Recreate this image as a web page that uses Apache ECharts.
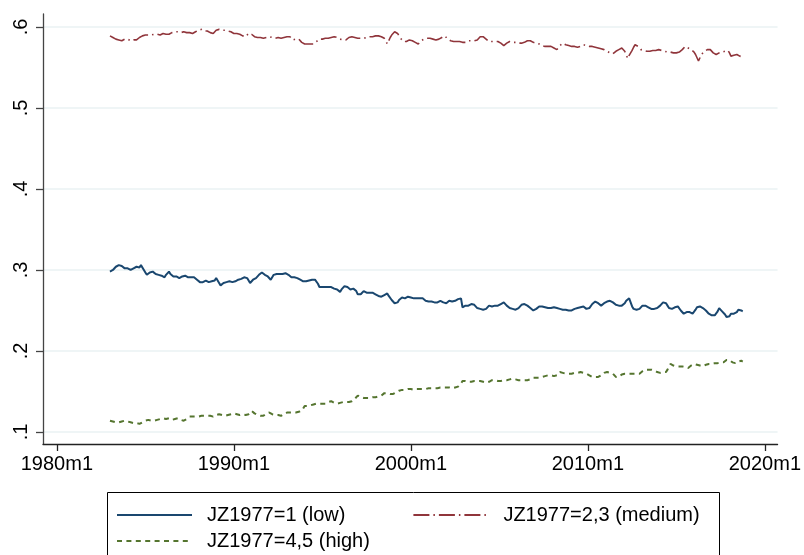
<!DOCTYPE html>
<html>
<head>
<meta charset="utf-8">
<script src="https://cdn.jsdelivr.net/npm/echarts@6/dist/echarts.min.js"></script>
<style>
  html, body { margin: 0; padding: 0; background: #fff; }
  #chart { width: 804px; height: 555px; }
</style>
</head>
<body>
<div id="chart"></div>
<script>
// Monthly shares by JZ1977 group, 1983m1 onwards (one row per year)
const startMonth = '1983m1';

const lowShare = [
  .298, .299, .300, .302, .304, .305, .306, .304, .305, .304, .302, .303,
  .302, .301, .300, .301, .302, .301, .304, .305, .303, .306, .305, .300,
  .297, .294, .295, .297, .299, .298, .296, .295, .296, .294, .295, .293,
  .292, .291, .294, .296, .298, .295, .293, .292, .291, .292, .291, .290,
  .291, .292, .291, .293, .292, .291, .292, .291, .290, .291, .290, .288,
  .286, .285, .284, .285, .286, .287, .286, .285, .287, .286, .288, .287,
  .290, .287, .284, .281, .283, .284, .283, .285, .284, .286, .286, .285,
  .284, .286, .285, .288, .287, .289, .290, .291, .293, .290, .287, .284,
  .286, .288, .287, .290, .292, .294, .295, .297, .295, .294, .293, .292,
  .290, .288, .291, .294, .296, .295, .293, .295, .294, .295, .294, .296,
  .295, .294, .292, .291, .292, .291, .290, .290, .289, .288, .287, .286,
  .287, .286, .288, .287, .286, .288, .287, .288, .286, .283, .279, .280,
  .279, .280, .279, .278, .279, .278, .279, .278, .277, .277, .276, .274,
  .273, .276, .278, .280, .281, .279, .277, .276, .275, .277, .279, .274,
  .270, .268, .270, .272, .274, .273, .272, .272, .272, .273, .272, .271,
  .270, .269, .268, .267, .267, .268, .269, .270, .271, .268, .266, .263,
  .261, .259, .258, .260, .263, .265, .266, .266, .265, .266, .267, .266,
  .266, .265, .265, .266, .265, .266, .265, .264, .265, .264, .262, .260,
  .261, .260, .261, .260, .260, .261, .260, .261, .262, .261, .260, .258,
  .259, .261, .262, .262, .261, .261, .262, .263, .264, .263, .265, .254,
  .255, .256, .256, .256, .257, .258, .258, .257, .256, .253, .253, .252,
  .252, .251, .251, .252, .254, .256, .256, .255, .255, .256, .255, .256,
  .257, .258, .259, .260, .258, .256, .254, .253, .252, .252, .251, .251,
  .251, .253, .255, .257, .259, .258, .257, .256, .255, .253, .251, .250,
  .251, .252, .254, .255, .256, .255, .255, .254, .254, .253, .253, .253,
  .253, .254, .253, .253, .252, .252, .252, .251, .251, .251, .250, .250,
  .250, .250, .251, .252, .253, .253, .254, .254, .254, .255, .253, .252,
  .251, .253, .255, .258, .260, .261, .260, .259, .257, .256, .258, .259,
  .260, .261, .261, .262, .261, .260, .258, .257, .256, .256, .255, .256,
  .257, .259, .262, .264, .265, .260, .255, .252, .251, .251, .252, .252,
  .254, .256, .257, .256, .255, .254, .253, .252, .252, .252, .253, .253,
  .254, .256, .258, .260, .261, .259, .256, .253, .251, .252, .253, .254,
  .254, .255, .253, .250, .248, .246, .247, .248, .248, .248, .247, .246,
  .248, .251, .254, .256, .255, .254, .253, .252, .250, .248, .246, .244,
  .244, .244, .244, .246, .249, .253, .251, .249, .247, .245, .242, .240,
  .243, .246, .246, .246, .246, .248, .251, .250, .250, .249
];

const mediumShare = [
  .589, .588, .587, .586, .585, .585, .584, .584, .583, .584, .585, .585,
  .585, .584, .583, .583, .584, .585, .584, .585, .587, .588, .589, .590,
  .590, .591, .590, .589, .590, .590, .591, .592, .591, .592, .590, .589,
  .592, .594, .591, .589, .591, .592, .593, .594, .594, .593, .594, .593,
  .593, .593, .594, .593, .593, .594, .593, .592, .592, .593, .594, .595,
  .596, .596, .597, .596, .595, .594, .595, .594, .593, .593, .592, .594,
  .596, .597, .597, .596, .596, .595, .596, .596, .595, .595, .594, .593,
  .592, .591, .592, .592, .591, .590, .589, .588, .588, .590, .592, .594,
  .591, .589, .588, .587, .587, .586, .587, .586, .586, .587, .587, .588,
  .588, .587, .587, .586, .586, .587, .587, .586, .586, .586, .587, .587,
  .588, .588, .588, .586, .584, .584, .585, .585, .585, .583, .581, .580,
  .579, .579, .579, .580, .579, .579, .579, .580, .582, .584, .585, .585,
  .585, .586, .586, .586, .586, .586, .587, .588, .588, .588, .587, .585,
  .585, .584, .584, .584, .584, .586, .587, .587, .588, .587, .587, .586,
  .586, .586, .586, .586, .586, .586, .587, .587, .588, .588, .588, .588,
  .589, .589, .589, .589, .588, .588, .586, .583, .579, .583, .587, .590,
  .592, .594, .595, .592, .589, .586, .584, .582, .581, .582, .583, .584,
  .584, .583, .582, .581, .580, .579, .581, .583, .585, .585, .585, .586,
  .586, .586, .585, .585, .585, .584, .584, .585, .586, .587, .588, .589,
  .587, .585, .583, .583, .582, .582, .582, .582, .582, .582, .581, .581,
  .580, .581, .582, .583, .583, .583, .583, .583, .583, .584, .586, .588,
  .589, .588, .586, .585, .583, .582, .582, .582, .582, .582, .582, .582,
  .581, .580, .579, .577, .578, .580, .581, .582, .582, .581, .581, .581,
  .580, .580, .580, .580, .580, .581, .582, .583, .583, .583, .582, .581,
  .581, .580, .580, .579, .578, .577, .576, .576, .576, .576, .576, .576,
  .575, .574, .573, .572, .574, .577, .579, .580, .579, .578, .577, .577,
  .576, .576, .576, .576, .575, .575, .575, .576, .577, .578, .578, .577,
  .577, .576, .576, .576, .575, .575, .575, .574, .574, .573, .573, .572,
  .571, .570, .569, .568, .566, .567, .568, .570, .571, .572, .573, .574,
  .572, .570, .566, .561, .565, .568, .571, .575, .578, .579, .576, .574,
  .572, .572, .571, .571, .570, .570, .570, .570, .571, .571, .571, .571,
  .572, .572, .571, .571, .570, .570, .569, .569, .569, .568, .568, .568,
  .568, .568, .569, .569, .572, .574, .576, .575, .574, .573, .572, .571,
  .569, .566, .562, .558, .562, .566, .568, .570, .571, .572, .572, .572,
  .570, .568, .566, .566, .567, .568, .568, .569, .569, .570, .571, .571,
  .568, .564, .564, .565, .566, .566, .565, .564, .563, .563
];

const highShare = [
  .114, .114, .113, .113, .112, .113, .112, .112, .113, .113, .114, .114,
  .113, .113, .112, .112, .111, .111, .111, .110, .110, .111, .112, .113,
  .114, .115, .115, .114, .114, .115, .114, .114, .115, .115, .116, .116,
  .117, .117, .116, .116, .117, .116, .115, .115, .116, .116, .117, .116,
  .115, .115, .114, .114, .116, .118, .119, .119, .119, .119, .119, .118,
  .119, .119, .120, .120, .120, .121, .120, .120, .120, .119, .119, .120,
  .121, .122, .122, .121, .121, .121, .120, .120, .121, .122, .122, .123,
  .123, .122, .122, .122, .121, .122, .122, .121, .121, .120, .122, .124,
  .126, .125, .123, .121, .121, .120, .120, .119, .120, .122, .123, .124,
  .124, .123, .122, .121, .121, .121, .121, .120, .120, .121, .122, .123,
  .124, .124, .124, .124, .124, .124, .124, .125, .125, .125, .126, .129,
  .132, .132, .132, .133, .133, .133, .134, .134, .135, .135, .135, .135,
  .135, .135, .135, .136, .137, .138, .138, .137, .136, .135, .135, .136,
  .136, .136, .137, .137, .137, .137, .137, .138, .138, .138, .141, .143,
  .145, .144, .143, .142, .142, .142, .142, .142, .142, .142, .143, .143,
  .143, .144, .144, .144, .145, .146, .148, .149, .148, .148, .147, .147,
  .147, .148, .149, .150, .151, .151, .152, .152, .152, .153, .153, .153,
  .153, .152, .152, .152, .153, .153, .153, .153, .153, .153, .153, .154,
  .154, .154, .154, .154, .154, .154, .154, .155, .155, .155, .155, .155,
  .155, .155, .155, .155, .154, .154, .155, .155, .156, .157, .160, .163,
  .163, .163, .162, .162, .162, .162, .162, .163, .163, .163, .163, .163,
  .162, .162, .162, .161, .162, .162, .163, .164, .164, .164, .163, .163,
  .163, .163, .164, .164, .164, .164, .164, .165, .165, .166, .165, .165,
  .164, .164, .164, .164, .164, .164, .164, .164, .165, .165, .166, .167,
  .167, .167, .167, .167, .168, .168, .169, .169, .169, .170, .170, .170,
  .169, .169, .168, .170, .172, .174, .173, .173, .172, .172, .172, .172,
  .172, .172, .172, .173, .173, .173, .174, .174, .174, .173, .173, .172,
  .171, .170, .169, .168, .168, .168, .168, .168, .168, .170, .172, .173,
  .174, .174, .173, .173, .172, .172, .170, .168, .167, .168, .170, .171,
  .172, .172, .172, .172, .172, .172, .172, .172, .172, .172, .172, .172,
  .173, .175, .176, .177, .177, .177, .177, .177, .177, .176, .175, .174,
  .173, .173, .173, .174, .174, .174, .177, .181, .184, .183, .182, .181,
  .181, .181, .181, .181, .181, .181, .180, .180, .179, .180, .182, .183,
  .184, .183, .183, .182, .182, .181, .181, .182, .183, .184, .184, .184,
  .184, .185, .185, .185, .185, .185, .186, .186, .186, .187, .189, .191,
  .189, .187, .186, .185, .185, .186, .187, .188, .188, .187
];

const xTickLabels = ['1980m1', '1990m1', '2000m1', '2010m1', '2020m1'];
const yTickLabels = ['.1', '.2', '.3', '.4', '.5', '.6'];
const seriesNames = ['JZ1977=1 (low)', 'JZ1977=2,3 (medium)', 'JZ1977=4,5 (high)'];

// Stata-style monthly dates: months since 1960m1
function parseMonth(s) {
  const [y, m] = s.split('m').map(Number);
  return (y - 1960) * 12 + (m - 1);
}
function formatMonth(t) {
  const y = 1960 + Math.floor(t / 12);
  const m = (t % 12 + 12) % 12 + 1;
  return y + 'm' + m;
}

const t0 = parseMonth(startMonth);
const toPairs = arr => arr.map((v, i) => [t0 + i, v]);
const xTicks = xTickLabels.map(parseMonth);
const yTicks = yTickLabels.map(Number);

const FONT = "'Liberation Sans', Arial, sans-serif";

// legend keys: plain line samples, no marker
const legendCommon = {
  orient: 'horizontal',
  padding: 0,
  itemWidth: 75, itemHeight: 14,
  itemStyle: { opacity: 0 },
  textStyle: { fontFamily: FONT, fontSize: 20, color: '#000', padding: [0, 0, 0, 10] }
};

const chart = echarts.init(document.getElementById('chart'), null, { renderer: 'canvas' });
chart.setOption({
  animation: false,
  backgroundColor: '#ffffff',
  grid: { left: 43, right: 21, top: 14, bottom: 111, containLabel: false },
  xAxis: {
    type: 'value',
    min: 230.6,
    max: 728.6,
    axisLine: { show: true, lineStyle: { color: '#222', width: 1.3 } },
    axisTick: { show: true, length: 7, customValues: xTicks, lineStyle: { color: '#222', width: 1.3 } },
    axisLabel: {
      customValues: xTicks,
      formatter: v => formatMonth(Math.round(v)),
      color: '#000', fontFamily: FONT, fontSize: 20, margin: 10
    },
    splitLine: { show: false }
  },
  yAxis: {
    type: 'value',
    min: 0.0852,
    max: 0.616,
    axisLine: { show: true, lineStyle: { color: '#444', width: 1.3 } },
    axisTick: { show: true, length: 7, customValues: yTicks, lineStyle: { color: '#444', width: 1.3 } },
    axisLabel: {
      customValues: yTicks,
      rotate: 90,
      formatter: v => yTickLabels[yTicks.findIndex(t => Math.abs(t - v) < 1e-6)] || '',
      color: '#000', fontFamily: FONT, fontSize: 20, margin: 12
    },
    splitLine: { show: true, lineStyle: { color: '#eaf2f3', width: 1.5 } }
  },
  legend: [
    Object.assign({}, legendCommon, {
      data: [seriesNames[0], seriesNames[1]],
      left: 116, top: 505, itemGap: 67
    }),
    Object.assign({}, legendCommon, {
      data: [seriesNames[2]],
      left: 116, top: 531
    })
  ],
  graphic: [
    {
      type: 'rect',
      shape: { x: 107.5, y: 492.5, width: 612, height: 80 },
      style: { fill: 'none', stroke: '#000', lineWidth: 1 },
      z: 0
    }
  ],
  series: [
    {
      name: seriesNames[0],
      type: 'line',
      data: toPairs(lowShare),
      showSymbol: false, symbol: 'none',
      color: '#1a476f',
      lineStyle: { color: '#1a476f', width: 2 }
    },
    {
      name: seriesNames[1],
      type: 'line',
      data: toPairs(mediumShare),
      showSymbol: false, symbol: 'none',
      color: '#90353b',
      lineStyle: { color: '#90353b', width: 1.6, type: [16, 4, 1.5, 4] }
    },
    {
      name: seriesNames[2],
      type: 'line',
      data: toPairs(highShare),
      showSymbol: false, symbol: 'none',
      color: '#55752f',
      lineStyle: { color: '#55752f', width: 2, type: [5, 4.4] }
    }
  ]
});
</script>
</body>
</html>
